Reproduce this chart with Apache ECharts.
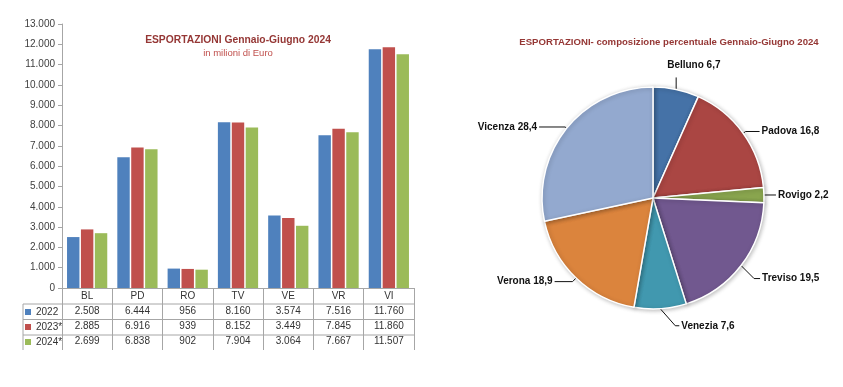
<!DOCTYPE html>
<html>
<head>
<meta charset="utf-8">
<script src="https://cdn.jsdelivr.net/npm/echarts@6/dist/echarts.min.js"></script>
<style>html,body{margin:0;padding:0;background:#fff;}#c{width:843px;height:387px;}</style>
</head>
<body>
<div id="c"></div>
<script>
var categories = ['BL','PD','RO','TV','VE','VR','VI'];
var seriesNames = ['2022','2023*','2024*'];
var values2022 = [2508,6444,956,8160,3574,7516,11760];
var values2023 = [2885,6916,939,8152,3449,7845,11860];
var values2024 = [2699,6838,902,7904,3064,7667,11507];
var barColors = ['#4F81BD','#C0504D','#9BBB59'];
var yMin = 0, yMax = 13000, yStep = 1000;

var pieNames = ['Belluno','Padova','Rovigo','Treviso','Venezia','Verona','Vicenza'];
var pieValues = [6.7,16.8,2.2,19.5,7.6,18.9,28.4];
var pieColors = ['#4572A7','#AA4643','#89A54E','#71588F','#4198AF','#DB843D','#93A9CF'];
var pieLineLen = [[12,0],[3,14],[2,10],[20,5],[20,15],[5,18],[2,26]];

var FONT = '"Liberation Sans", Arial, sans-serif';
function fmt(n){ return String(n).replace(/\B(?=(\d{3})+(?!\d))/g,'.'); }
var allSeries = [values2022, values2023, values2024];

var chart = echarts.init(document.getElementById('c'), null, {renderer:'canvas'});

var xAxes = [{
  type:'category', data:categories, gridIndex:0, position:'bottom',
  axisLine:{show:true, lineStyle:{color:'#A6A6A6', width:1}},
  axisTick:{show:true, interval:0, length:62, lineStyle:{color:'#A6A6A6'}},
  axisLabel:{interval:0, margin:3, fontSize:10, color:'#333', fontFamily:FONT}
}];
var offsets = [15,30,45];
for (var k=0;k<3;k++){
  (function(k){
    xAxes.push({
      type:'category', data:categories, gridIndex:0, position:'bottom', offset:offsets[k],
      axisLine:{show:false}, axisTick:{show:false},
      axisLabel:{interval:0, margin:3, fontSize:10, color:'#333', fontFamily:FONT,
        formatter:function(v,i){ return fmt(allSeries[k][i]); }}
    });
  })(k);
}

var barSeries = allSeries.map(function(arr,i){
  return {type:'bar', name:seriesNames[i], data:arr, xAxisIndex:0, yAxisIndex:0,
    barCategoryGap:'20%', barGap:'12%', itemStyle:{color:barColors[i]}, silent:true};
});

var pieData = pieNames.map(function(n,i){
  return {name:n, value:pieValues[i], itemStyle:{color:pieColors[i]},
    labelLine:{length:pieLineLen[i][0], length2:pieLineLen[i][1]}};
});

var option = {
  animation:false,
  backgroundColor:'#fff',
  title:[
    {text:'ESPORTAZIONI Gennaio-Giugno 2024', subtext:'in milioni di Euro', left:233, top:30, textAlign:'center',
      itemGap:3,
      textStyle:{fontSize:10.3, fontWeight:'bold', color:'#953735', fontFamily:FONT},
      subtextStyle:{fontSize:9.5, color:'#C0504D', fontFamily:FONT}},
    {text:'ESPORTAZIONI- composizione percentuale Gennaio-Giugno 2024', left:664, top:32, textAlign:'center',
      textStyle:{fontSize:9.6, fontWeight:'bold', color:'#953735', fontFamily:FONT}}
  ],
  legend:{
    data:seriesNames, orient:'vertical', left:25, top:306, itemWidth:6, itemHeight:6, itemGap:3,
    icon:'rect', textStyle:{fontSize:10, color:'#333', fontFamily:FONT, lineHeight:12}, padding:0, selectedMode:false
  },
  grid:{left:62, right:429, top:24, bottom:99, containLabel:false},
  xAxis:xAxes,
  yAxis:{type:'value', min:yMin, max:yMax, interval:yStep, gridIndex:0,
    axisLine:{show:true, lineStyle:{color:'#A6A6A6'}},
    axisTick:{show:true, length:4, lineStyle:{color:'#A6A6A6'}},
    splitLine:{show:false},
    axisLabel:{fontSize:10, color:'#404040', fontFamily:FONT, margin:7, formatter:function(v){return fmt(v);}}
  },
  graphic:[
    {type:'line', shape:{x1:23,y1:304,x2:414,y2:304}, style:{stroke:'#A6A6A6', lineWidth:1}},
    {type:'line', shape:{x1:23,y1:319.5,x2:414,y2:319.5}, style:{stroke:'#A6A6A6', lineWidth:1}},
    {type:'line', shape:{x1:23,y1:335,x2:414,y2:335}, style:{stroke:'#A6A6A6', lineWidth:1}},
    {type:'line', shape:{x1:23,y1:304,x2:23,y2:350}, style:{stroke:'#A6A6A6', lineWidth:1}}
  ],
  series: barSeries.concat([{
    type:'pie', center:[653,198], radius:111, startAngle:90, clockwise:true, silent:true,
    data:pieData,
    itemStyle:{borderColor:'#fff', borderWidth:1.5, shadowBlur:4, shadowOffsetX:1, shadowOffsetY:1, shadowColor:'rgba(0,0,0,0.25)'},
    label:{show:true, position:'outside', fontSize:10, fontWeight:'bold', color:'#111', fontFamily:FONT,
      distanceToLabelLine:2,
      formatter:function(p){ return p.name+' '+String(p.value).replace('.',','); }},
    labelLine:{show:true, lineStyle:{color:'#111', width:1}},
    labelLayout:function(p){
      var pts = p.labelLinePoints;
      if (!pts) return {};
      var s = pts[0];
      if (p.dataIndex === 0) {
        var top = [s[0], s[1]-12];
        return {x: s[0]-9, y: s[1]-24, align:'left', verticalAlign:'middle',
          labelLinePoints:[s, top, top]};
      }
      if (p.dataIndex === 3) {
        var a = [s[0]+13, s[1]+13], b = [s[0]+19, s[1]+13];
        return {x: s[0]+21, y: s[1]+13, align:'left', verticalAlign:'middle',
          labelLinePoints:[s, a, b]};
      }
      if (p.dataIndex === 4) {
        var c = [s[0]+15, s[1]+17], d = [s[0]+19, s[1]+17];
        return {x: s[0]+21, y: s[1]+17, align:'left', verticalAlign:'middle',
          labelLinePoints:[s, c, d]};
      }
      return {};
    }
  }])
};
chart.setOption(option);
</script>
</body>
</html>
